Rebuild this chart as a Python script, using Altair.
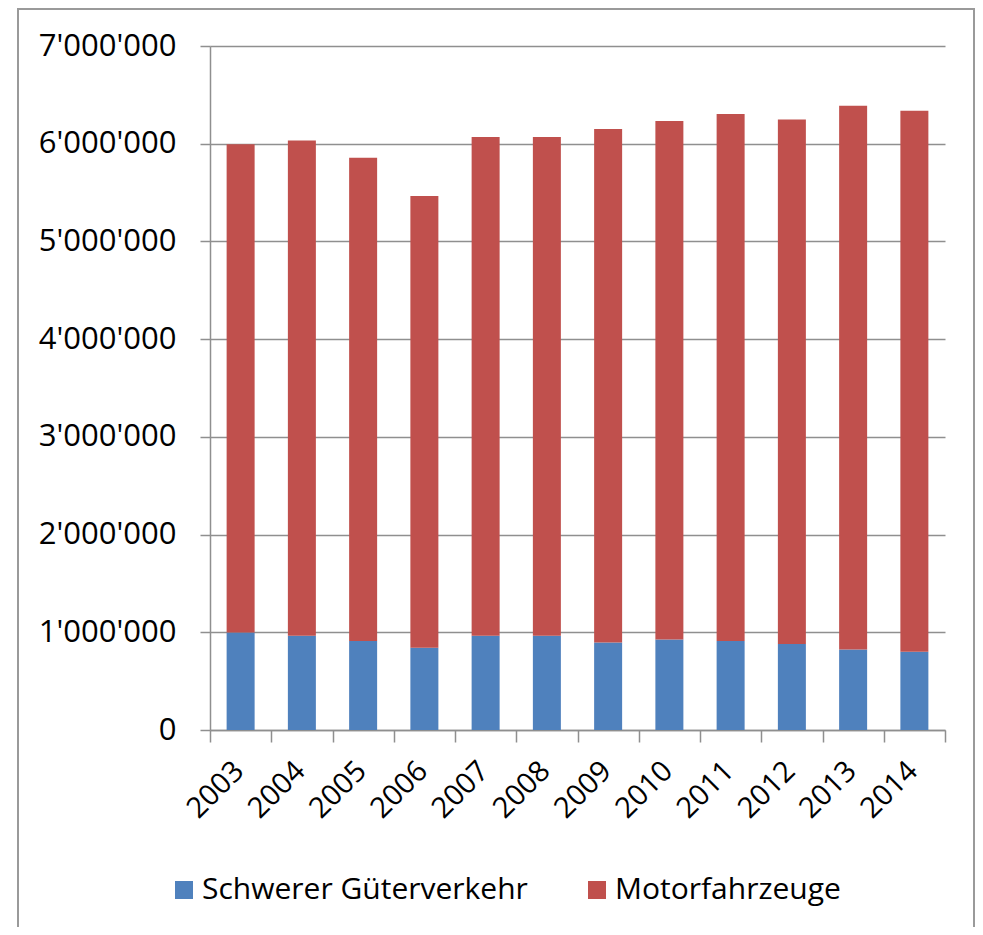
import altair as alt
import pandas as pd

years = ["2003", "2004", "2005", "2006", "2007", "2008", "2009", "2010", "2011", "2012", "2013", "2014"]
schwer = [998000, 965000, 910000, 842000, 965000, 965000, 896000, 927000, 910000, 879000, 824000, 800000]
motor = [4997000, 5069000, 4946000, 4622000, 5103000, 5103000, 5254000, 5305000, 5394000, 5370000, 5565000, 5538000]
series = ["Schwerer Güterverkehr", "Motorfahrzeuge"]
colors = ["#4F81BD", "#C0504D"]
y_ticks = [0, 1000000, 2000000, 3000000, 4000000, 5000000, 6000000, 7000000]

rows = []
for i, yr in enumerate(years):
    rows.append({"Jahr": yr, "Serie": series[0], "Wert": schwer[i], "ord": 0})
    rows.append({"Jahr": yr, "Serie": series[1], "Wert": motor[i], "ord": 1})
df = pd.DataFrame(rows)

FONT = "Open Sans"
GRID = "#8f8f8f"

bars = alt.Chart(df).mark_bar(size=28).encode(
    x=alt.X("Jahr:N", sort=years, title=None,
            scale=alt.Scale(paddingInner=0, paddingOuter=0),
            axis=alt.Axis(labelAngle=315, labelFontSize=29, labelFont=FONT, labelColor="#000000",
                          tickBand="extent", tickSize=12, tickColor=GRID, tickWidth=1.5,
                          domainColor=GRID, domainWidth=1.5, labelPadding=14, labelOffset=-12,
                          grid=False)),
    y=alt.Y("Wert:Q", stack="zero", title=None,
            scale=alt.Scale(domain=[0, 7000000], nice=False),
            axis=alt.Axis(values=y_ticks, labelFontSize=31, labelFont=FONT, labelColor="#000000",
                          labelExpr="replace(replace(format(datum.value, ','), ',', \"'\"), ',', \"'\")",
                          tickSize=10, tickColor=GRID, tickWidth=1.5, domainColor=GRID, domainWidth=1.5,
                          gridColor=GRID, gridWidth=1.5, labelPadding=24)),
    color=alt.Color("Serie:N", scale=alt.Scale(domain=series, range=colors),
                    legend=alt.Legend(title=None, orient="none", direction="horizontal",
                                      legendX=-41, legendY=829, padding=0, symbolType="square",
                                      symbolSize=324, symbolStrokeWidth=0, labelFontSize=30,
                                      labelFont=FONT, labelColor="#000000", labelOffset=3,
                                      columnPadding=54, labelLimit=0)),
    order=alt.Order("ord:Q"),
)

frame = alt.Chart(pd.DataFrame({"a": [0]})).mark_rect(fill="transparent", stroke="#9a9a9a", strokeWidth=2).encode(
    x=alt.value(-192), x2=alt.value(764), y=alt.value(-37), y2=alt.value(900)
)

chart = alt.layer(frame, bars).properties(
    width=735, height=684,
    autosize=alt.AutoSizeParams(type="none"),
    padding={"left": 202, "top": 38, "right": 30, "bottom": 197},
).configure_view(stroke=None)

chart.save("out.html", embed_options={"renderer": "svg", "actions": False})
